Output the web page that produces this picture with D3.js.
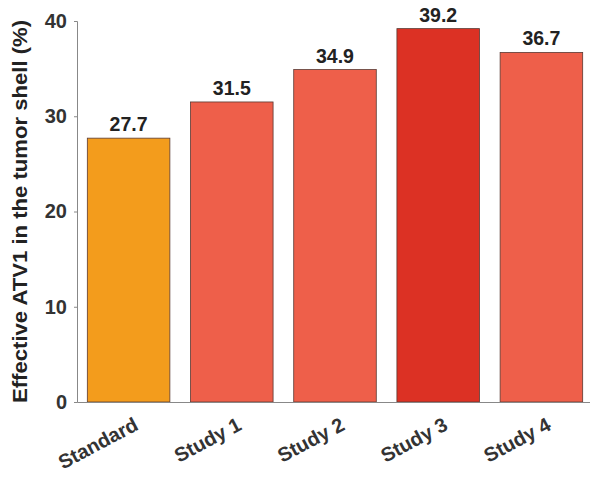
<!DOCTYPE html>
<html><head><meta charset="utf-8">
<script src="https://cdn.jsdelivr.net/npm/d3@7"></script>
<style>body{margin:0;background:#fff}svg{display:block}text{font-family:"Liberation Sans",Arial,sans-serif}</style>
</head><body><svg id="c" width="590" height="480"></svg>
<script>
const categories = ["Standard","Study 1","Study 2","Study 3","Study 4"];
const values = [27.7, 31.5, 34.9, 39.2, 36.7];
const barColors = ["#F39C1C","#EE5F4A","#EE5F4A","#DC3124","#EE5F4A"];
const yTicks = [0,10,20,30,40];
const yLabel = "Effective ATV1 in the tumor shell (%)";

const svg = d3.select("#c");
const m = {left:77, right:-3, top:21, bottom:78};
const W = 590, H = 480;
const x = d3.scaleBand().domain(categories).range([m.left, W - m.right]).paddingInner(0.2).paddingOuter(0.1);
const y = d3.scaleLinear().domain([0,40]).range([H - m.bottom, m.top]);
const FONT = "Liberation Sans, Arial, sans-serif";

// bars
svg.selectAll("rect.bar").data(values).join("rect")
  .attr("x",(d,i)=>x(categories[i])).attr("width",x.bandwidth())
  .attr("y",d=>y(d)).attr("height",d=>y(0)-y(d))
  .attr("fill",(d,i)=>barColors[i]).attr("stroke","#5a3a33").attr("stroke-width",0.8);

// value labels
svg.selectAll("text.val").data(values).join("text")
  .attr("x",(d,i)=>x(categories[i])+x.bandwidth()/2).attr("y",d=>y(d)-7)
  .attr("text-anchor","middle").attr("font-size",19.5).attr("font-weight","bold").attr("fill","#222")
  .text(d=>d.toFixed(1));

// y axis
const ya = svg.append("g").attr("transform",`translate(${m.left},0)`)
  .call(d3.axisLeft(y).tickValues(yTicks).tickSize(3).tickPadding(7));
ya.select(".domain").attr("stroke","#888");
ya.selectAll(".tick line").attr("stroke","#888");
ya.selectAll(".tick text").attr("font-size",20).attr("font-weight","bold").attr("fill","#333").attr("font-family",FONT);

// x axis
const xa = svg.append("g").attr("transform",`translate(0,${y(0)})`)
  .call(d3.axisBottom(x).tickSize(0).tickPadding(0));
xa.select(".domain").attr("stroke","#888");
xa.selectAll(".tick text").attr("font-size",20).attr("font-weight","bold").attr("fill","#333")
  .attr("font-family",FONT)
  .attr("text-anchor","end").attr("dy",0)
  .attr("transform","translate(11,27) rotate(-28)");

// y label
svg.append("text").attr("transform",`translate(27,${(y(0)+y(40))/2}) rotate(-90)`)
  .attr("text-anchor","middle").attr("font-size",20).attr("font-weight","bold").attr("fill","#222")
  .attr("textLength",383).attr("lengthAdjust","spacingAndGlyphs")
  .text(yLabel);
</script></body></html>
